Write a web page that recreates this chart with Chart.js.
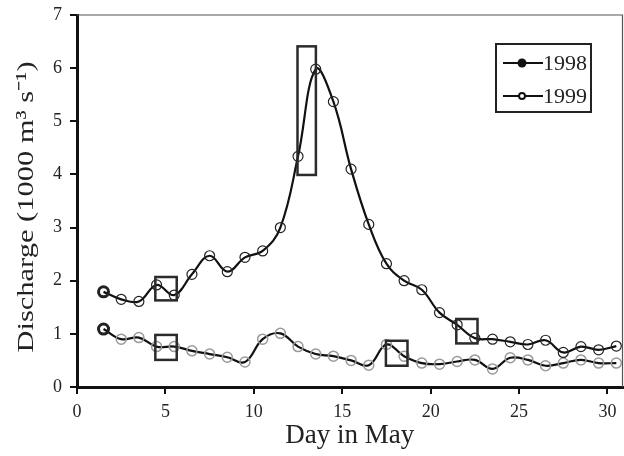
<!DOCTYPE html>
<html>
<head>
<meta charset="utf-8">
<script src="https://cdn.jsdelivr.net/npm/chart.js@4/dist/chart.umd.min.js"></script>
<style>
  html, body { margin: 0; padding: 0; background: #fff; }
  #wrap { width: 624px; height: 456px; position: relative; }
</style>
</head>
<body>
<div id="wrap"><canvas id="discharge"></canvas></div>
<script>
const days = [1.5, 2.5, 3.5, 4.5, 5.5, 6.5, 7.5, 8.5, 9.5, 10.5,
  11.5, 12.5, 13.5, 14.5, 15.5, 16.5, 17.5, 18.5, 19.5, 20.5,
  21.5, 22.5, 23.5, 24.5, 25.5, 26.5, 27.5, 28.5, 29.5, 30.5];
const discharge1998 = [1.79, 1.65, 1.61, 1.92, 1.73, 2.12, 2.47, 2.17, 2.44, 2.56,
  3.0, 4.34, 5.98, 5.37, 4.1, 3.06, 2.32, 2.0, 1.83, 1.4,
  1.17, 0.92, 0.9, 0.85, 0.8, 0.88, 0.65, 0.76, 0.7, 0.77];
const discharge1999 = [1.09, 0.9, 0.93, 0.76, 0.76, 0.68, 0.62, 0.56, 0.47, 0.9,
  1.01, 0.76, 0.62, 0.58, 0.5, 0.41, 0.8, 0.58, 0.45, 0.43,
  0.48, 0.51, 0.34, 0.55, 0.51, 0.4, 0.45, 0.51, 0.45, 0.45];
const seriesLabels = ["1998", "1999"];
const xTicks = [0, 5, 10, 15, 20, 25, 30];
const yTicks = [0, 1, 2, 3, 4, 5, 6, 7];
const yTitle = "Discharge (1000 m\u00b3 s\u207b\u00b9)";
// highlighted boxes in data units: [xFrom, xTo, yFrom, yTo]
const boxes = [
  [4.43, 5.64, 1.63, 2.07],
  [4.43, 5.64, 0.51, 0.98],
  [12.47, 13.51, 3.99, 6.41],
  [17.47, 18.69, 0.40, 0.87],
  [21.45, 22.65, 0.82, 1.28],
];

const SERIF = "'Liberation Serif', 'Times New Roman', serif";

function toPoints(ys) {
  return ys.map((y, i) => ({ x: days[i], y: y }));
}

const boxPlugin = {
  id: "boxes",
  afterDatasetsDraw(chart) {
    const { ctx, scales } = chart;
    ctx.save();
    ctx.strokeStyle = "#2b2b2b";
    ctx.lineWidth = 2.5;
    boxes.forEach(([x0, x1, y0, y1]) => {
      const l = scales.x.getPixelForValue(x0);
      const r = scales.x.getPixelForValue(x1);
      const t = scales.y.getPixelForValue(y1);
      const b = scales.y.getPixelForValue(y0);
      ctx.strokeRect(l, t, r - l, b - t);
    });
    ctx.restore();
  },
};

const framePlugin = {
  id: "frame",
  beforeDatasetsDraw(chart) {
    const { ctx, chartArea: a } = chart;
    ctx.save();
    ctx.strokeStyle = "#555";
    ctx.lineWidth = 1.2;
    ctx.beginPath();
    ctx.moveTo(a.left, a.top);
    ctx.lineTo(a.right, a.top);
    ctx.lineTo(a.right, a.bottom);
    ctx.stroke();
    ctx.restore();
  },
};

// the y title in the source is drawn a bit stretched along its length
const yTitlePlugin = {
  id: "yTitle",
  afterDraw(chart) {
    const { ctx } = chart;
    ctx.save();
    ctx.translate(27, 207);
    ctx.rotate(-Math.PI / 2);
    ctx.scale(1.27, 1);
    ctx.fillStyle = "#222";
    ctx.font = "24px " + SERIF;
    ctx.textAlign = "center";
    ctx.textBaseline = "middle";
    ctx.fillText(yTitle, 0, 0);
    ctx.restore();
  },
};

const legendPlugin = {
  id: "boxLegend",
  afterDraw(chart) {
    const { ctx } = chart;
    ctx.save();
    ctx.fillStyle = "#fff";
    ctx.fillRect(496, 44, 95, 68);
    ctx.strokeStyle = "#222";
    ctx.lineWidth = 2;
    ctx.strokeRect(496, 44, 95, 68);
    const rows = [63, 96];
    rows.forEach((y, i) => {
      ctx.strokeStyle = "#111";
      ctx.lineWidth = 2;
      ctx.beginPath();
      ctx.moveTo(503, y);
      ctx.lineTo(543, y);
      ctx.stroke();
      ctx.beginPath();
      if (i === 0) {
        ctx.fillStyle = "#111";
        ctx.arc(522, y, 4.5, 0, Math.PI * 2);
        ctx.fill();
      } else {
        ctx.fillStyle = "#fff";
        ctx.arc(522, y, 3, 0, Math.PI * 2);
        ctx.fill();
        ctx.stroke();
      }
      ctx.fillStyle = "#222";
      ctx.font = "22px " + SERIF;
      ctx.textBaseline = "middle";
      ctx.fillText(chart.data.datasets[i].label, 543, y + 1);
    });
    ctx.restore();
  },
};

new Chart(document.getElementById("discharge"), {
  type: "line",
  data: {
    datasets: [
      {
        label: seriesLabels[0],
        data: toPoints(discharge1998),
        borderColor: "#111",
        borderWidth: 2.2,
        tension: 0.4,
        pointRadius: 5,
        pointBackgroundColor: "rgba(0,0,0,0)",
        pointBorderColor: "#222",
        pointBorderWidth: (c) => (c.dataIndex === 0 ? 3 : 1.2),
      },
      {
        label: seriesLabels[1],
        data: toPoints(discharge1999),
        borderColor: "#111",
        borderWidth: 2.2,
        tension: 0.4,
        pointRadius: 5,
        pointBackgroundColor: "rgba(0,0,0,0)",
        pointBorderColor: (c) => (c.dataIndex === 0 ? "#222" : "#999"),
        pointBorderWidth: (c) => (c.dataIndex === 0 ? 3 : 1.5),
      },
    ],
  },
  options: {
    responsive: true,
    maintainAspectRatio: false,
    animation: false,
    layout: { autoPadding: false, padding: { top: 15, right: 1.5, left: 0, bottom: 0 } },
    plugins: {
      legend: { display: false },
      tooltip: { enabled: false },
    },
    scales: {
      x: {
        type: "linear",
        min: 0,
        max: 30.85,
        afterBuildTicks(scale) {
          scale.ticks = xTicks.map((v) => ({ value: v }));
        },
        afterFit(scale) {
          scale.height = 69;
          scale.paddingLeft = 0;
          scale.paddingRight = 0;
        },
        grid: { drawOnChartArea: false, color: "#111", tickLength: 7, lineWidth: 2 },
        border: { color: "#111", width: 3 },
        ticks: { color: "#222", font: { family: SERIF, size: 18 }, padding: 7 },
        title: {
          display: true,
          text: "Day in May",
          color: "#222",
          font: { family: SERIF, size: 27 },
          padding: { top: 0 },
        },
      },
      y: {
        min: 0,
        max: 7,
        afterBuildTicks(scale) {
          scale.ticks = yTicks.map((v) => ({ value: v }));
        },
        afterFit(scale) {
          scale.width = 77;
          scale.paddingTop = 0;
          scale.paddingBottom = 0;
        },
        grid: { drawOnChartArea: false, color: "#111", tickLength: 7, lineWidth: 2 },
        border: { color: "#111", width: 3 },
        ticks: { color: "#222", font: { family: SERIF, size: 18 }, padding: 8 },
      },
    },
  },
  plugins: [framePlugin, boxPlugin, legendPlugin, yTitlePlugin],
});
</script>
</body>
</html>
